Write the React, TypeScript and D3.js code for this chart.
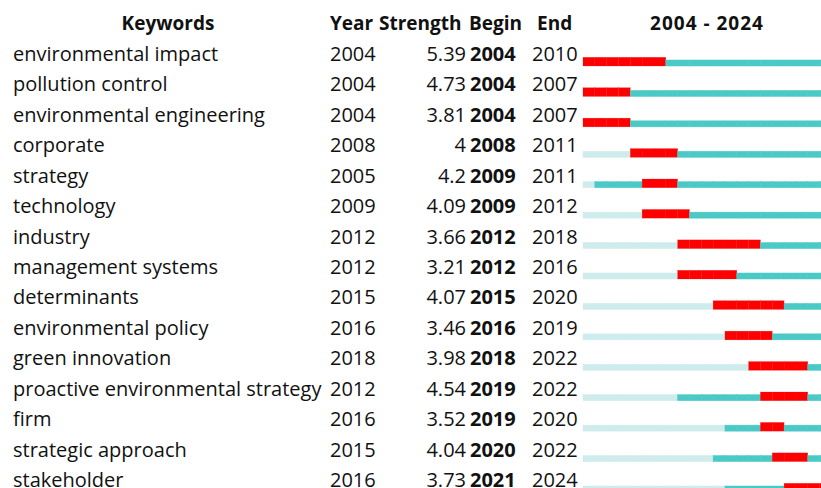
import React from "react";
import * as d3 from "d3";

const keywords = [
  "environmental impact",
  "pollution control",
  "environmental engineering",
  "corporate",
  "strategy",
  "technology",
  "industry",
  "management systems",
  "determinants",
  "environmental policy",
  "green innovation",
  "proactive environmental strategy",
  "firm",
  "strategic approach",
  "stakeholder",
];
const years = [2004, 2004, 2004, 2008, 2005, 2009, 2012, 2012, 2015, 2016, 2018, 2012, 2016, 2015, 2016];
const strengths = ["5.39", "4.73", "3.81", "4", "4.2", "4.09", "3.66", "3.21", "4.07", "3.46", "3.98", "4.54", "3.52", "4.04", "3.73"];
const begins = [2004, 2004, 2004, 2008, 2009, 2009, 2012, 2012, 2015, 2016, 2018, 2019, 2019, 2020, 2021];
const ends = [2010, 2007, 2007, 2011, 2011, 2012, 2018, 2016, 2020, 2019, 2022, 2022, 2020, 2022, 2024];
const headers = ["Keywords", "Year", "Strength", "Begin", "End"];
const rangeStart = 2004;
const rangeEnd = 2024;

const RED = "#ff0000";
const CYAN = "#4bc9c6";
const LIGHT = "#cfeced";
const FONT = "'Open Sans', 'Noto Sans', sans-serif";

export default function App() {
  const W = 821, H = 488;
  const allYears = d3.range(rangeStart, rangeEnd + 1);
  const x = d3.scaleLinear().domain([rangeStart, rangeEnd + 1]).range([583, 583 + 11.83 * allYears.length]);
  const y = d3.scalePoint<number>().domain(d3.range(keywords.length)).range([54, 480]);
  const fs = 20;
  return (
    <svg width={W} height={H} style={{ position: "absolute", left: 0, top: 0, background: "#fff" }} fontFamily={FONT}>
      <g fontWeight="bold" fontSize={19} fill="#111">
        <text x={168} y={23} dy="0.35em" textAnchor="middle">{headers[0]}</text>
        <text x={330} y={23} dy="0.35em">{headers[1]}</text>
        <text x={379} y={23} dy="0.35em">{headers[2]}</text>
        <text x={469} y={23} dy="0.35em">{headers[3]}</text>
        <text x={537} y={23} dy="0.35em">{headers[4]}</text>
        <text x={707} y={23} dy="0.35em" textAnchor="middle" letterSpacing={1}>{`${rangeStart} - ${rangeEnd}`}</text>
      </g>
      {keywords.map((k, i) => {
        const cy = y(i)!;
        return (
          <g key={k}>
            <text x={13} y={cy} dy="0.35em" fontSize={fs} fill="#111">{k}</text>
            <text x={330} y={cy} dy="0.35em" fontSize={fs} fill="#111">{years[i]}</text>
            <text x={466} y={cy} dy="0.35em" fontSize={fs} fill="#111" textAnchor="end">{strengths[i]}</text>
            <text x={470} y={cy} dy="0.35em" fontSize={fs} fill="#111" fontWeight="bold">{begins[i]}</text>
            <text x={532} y={cy} dy="0.35em" fontSize={fs} fill="#111">{ends[i]}</text>
            {allYears.map((yr) => {
              const inBurst = yr >= begins[i] && yr <= ends[i];
              const color = inBurst ? RED : yr >= years[i] ? CYAN : LIGHT;
              const top = inBurst ? cy + 3.3 : cy + 6;
              return (
                <rect
                  key={yr}
                  x={x(yr)}
                  y={top}
                  width={x(yr + 1) - x(yr)}
                  height={cy + 12 - top}
                  fill={color}
                  stroke={inBurst ? "#e80000" : color}
                  strokeOpacity={inBurst ? 0.4 : 1}
                  strokeWidth={0.5}
                />
              );
            })}
          </g>
        );
      })}
    </svg>
  );
}
